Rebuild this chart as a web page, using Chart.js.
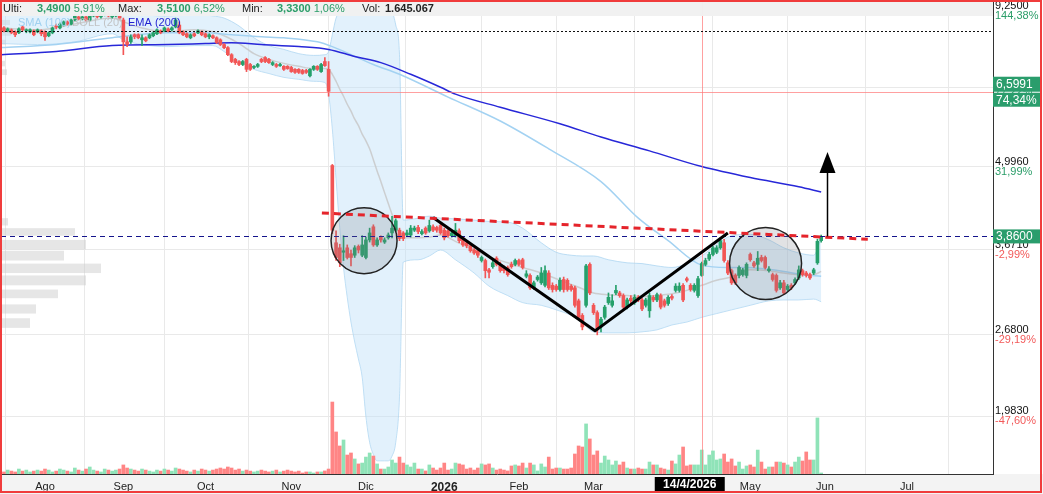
<!DOCTYPE html>
<html lang="es">
<head>
<meta charset="UTF-8">
<title>Gráfico</title>
<script src="https://cdn.jsdelivr.net/npm/chart.js"></script>
<style>
    html, body { margin: 0; padding: 0; background: #fff; overflow: hidden; }
    canvas { display: block; }
</style>
</head>
<body>
<canvas id="chart" width="1043" height="494"></canvas>
<script>
// sesiones diarias: el índice de cada array es la sesión (0 = finales de julio)
const opens = [
 8.30,8.36,8.27,8.30,8.24,8.21,8.39,8.27,8.24,8.27, 8.24,8.27,8.24,8.12,8.21,8.42,8.36,8.45,8.55,8.48,
 8.61,8.71,8.64,8.71,8.61,8.74,8.80,8.71,8.77,8.80, 8.71,8.74,8.77,8.61,7.94,7.94,8.15,8.15,8.00,8.06,
 8.06,8.12,8.18,8.27,8.27,8.33,8.30,8.39,8.45,8.24, 8.18,8.06,8.18,8.21,8.24,8.18,8.09,8.12,8.06,8.00,
 7.86,7.77,7.57,7.44,7.38,7.30,7.44,7.30,7.22,7.25, 7.44,7.49,7.44,7.30,7.30,7.27,7.25,7.25,7.22,7.17,
 7.17,7.14,7.14,7.00,7.17,7.25,7.11,7.38,7.17,5.02, 3.77,3.70,3.64,3.70,3.62,3.60,3.72,3.60,3.57,3.81,
 4.00,3.74,3.85,3.78,3.84,3.91,3.95,3.95,3.91,3.88, 3.88,3.95,3.99,3.90,3.98,3.94,4.00,3.99,4.02,3.95,
 3.94,3.87,3.87,3.94,3.84,3.77,3.73,3.67,3.66,3.53, 3.53,3.41,3.45,3.56,3.48,3.44,3.44,3.48,3.48,3.53,
 3.54,3.33,3.34,3.19,3.29,3.25,3.22,3.37,3.22,3.21, 3.17,3.29,3.28,3.21,3.19,3.04,2.88,2.99,3.48,2.99,
 2.91,2.76,2.86,3.02,2.99,3.13,3.13,3.10,2.97,3.07, 3.02,3.08,3.05,2.99,2.93,3.08,3.05,3.10,3.04,3.01,
 3.09,3.16,3.16,3.22,3.30,3.22,3.16,3.10,3.34,3.48, 3.55,3.61,3.64,3.70,3.77,3.50,3.40,3.34,3.34,3.35,
 3.34,3.61,3.50,3.48,3.57,3.57,3.40,3.35,3.34,3.19, 3.25,3.17,3.22,3.25,3.31,3.40,3.37,3.35,3.37,3.50,
 3.80
];
const highs = [
 8.39,8.40,8.36,8.33,8.27,8.36,8.42,8.33,8.33,8.30, 8.33,8.30,8.27,8.24,8.39,8.48,8.52,8.58,8.58,8.64,
 8.80,8.77,8.74,8.74,8.80,8.84,8.84,8.87,8.90,8.84, 8.80,8.84,8.80,8.67,8.09,8.15,8.18,8.18,8.15,8.09,
 8.18,8.24,8.33,8.30,8.39,8.36,8.39,8.67,8.55,8.27, 8.21,8.18,8.21,8.30,8.27,8.21,8.18,8.15,8.09,8.03,
 7.89,7.80,7.60,7.47,7.41,7.41,7.47,7.33,7.27,7.33, 7.47,7.52,7.47,7.38,7.33,7.33,7.27,7.27,7.25,7.19,
 7.19,7.17,7.17,7.19,7.27,7.27,7.33,7.49,7.38,5.04, 3.94,3.75,3.87,3.74,3.67,3.73,3.74,3.87,3.85,3.98,
 4.03,3.84,3.87,3.84,3.91,4.16,4.12,3.98,3.93,3.95, 4.02,4.01,4.02,3.96,4.00,4.10,4.03,4.01,4.05,3.98,
 3.96,3.93,4.05,3.97,3.86,3.79,3.75,3.69,3.68,3.59, 3.55,3.43,3.53,3.58,3.51,3.46,3.46,3.51,3.55,3.55,
 3.56,3.40,3.36,3.27,3.34,3.44,3.46,3.40,3.25,3.23, 3.31,3.32,3.30,3.23,3.21,3.06,2.90,3.48,3.50,3.01,
 2.93,2.86,2.99,3.13,3.11,3.22,3.15,3.12,3.07,3.10, 3.11,3.10,3.07,3.07,3.13,3.10,3.13,3.12,3.06,3.10,
 3.11,3.24,3.25,3.24,3.32,3.24,3.24,3.33,3.51,3.56, 3.64,3.72,3.73,3.84,3.82,3.53,3.42,3.36,3.46,3.43,
 3.50,3.63,3.52,3.65,3.60,3.59,3.45,3.37,3.36,3.28, 3.28,3.23,3.24,3.31,3.46,3.42,3.39,3.37,3.43,3.82,
 3.88
];
const lows = [
 8.27,8.24,8.24,8.18,8.09,8.18,8.27,8.21,8.21,8.12, 8.21,8.12,7.98,8.09,8.18,8.33,8.33,8.42,8.45,8.45,
 8.58,8.61,8.61,8.58,8.58,8.71,8.67,8.67,8.74,8.71, 8.67,8.71,8.64,7.57,7.80,7.89,8.03,8.03,7.83,7.94,
 8.03,8.09,8.15,8.18,8.24,8.24,8.27,8.36,8.18,8.12, 8.06,8.03,8.09,8.18,8.12,8.06,8.03,8.03,7.89,7.83,
 7.74,7.54,7.35,7.30,7.27,7.27,7.11,7.14,7.19,7.22, 7.35,7.35,7.33,7.27,7.22,7.25,7.14,7.17,7.09,7.06,
 7.06,7.04,7.06,6.97,7.14,7.14,7.09,7.25,6.49,3.90, 3.53,3.45,3.53,3.55,3.46,3.57,3.63,3.58,3.55,3.78,
 3.72,3.72,3.78,3.76,3.82,3.84,3.93,3.80,3.80,3.86, 3.85,3.93,3.90,3.88,3.89,3.92,3.93,3.92,3.89,3.81,
 3.85,3.85,3.85,3.77,3.72,3.70,3.64,3.61,3.57,3.51, 3.31,3.31,3.43,3.46,3.38,3.37,3.33,3.43,3.46,3.46,
 3.42,3.31,3.17,3.17,3.27,3.23,3.20,3.17,3.14,3.15, 3.15,3.14,3.15,3.15,2.97,2.84,2.73,2.97,3.11,2.89,
 2.68,2.71,2.84,3.00,2.97,3.11,3.08,2.95,2.95,3.01, 3.00,3.03,2.93,2.97,2.86,3.03,3.03,2.95,2.97,2.99,
 3.05,3.14,3.14,3.03,3.26,3.15,3.14,3.08,3.33,3.46, 3.53,3.59,3.62,3.68,3.51,3.35,3.23,3.23,3.31,3.33,
 3.31,3.52,3.44,3.40,3.51,3.42,3.38,3.27,3.14,3.17, 3.11,3.15,3.17,3.23,3.29,3.33,3.32,3.29,3.35,3.48,
 3.78
];
const closes = [
 8.36,8.27,8.33,8.21,8.15,8.33,8.30,8.30,8.30,8.15, 8.30,8.18,8.09,8.21,8.36,8.39,8.48,8.55,8.48,8.61,
 8.74,8.64,8.71,8.61,8.77,8.80,8.71,8.80,8.84,8.74, 8.77,8.80,8.67,7.94,7.86,8.09,8.09,8.06,8.06,7.97,
 8.15,8.21,8.30,8.21,8.36,8.27,8.36,8.61,8.21,8.15, 8.09,8.15,8.12,8.27,8.15,8.09,8.15,8.06,7.92,7.86,
 7.77,7.57,7.38,7.35,7.30,7.38,7.17,7.17,7.25,7.30, 7.38,7.38,7.35,7.35,7.25,7.30,7.17,7.19,7.11,7.09,
 7.09,7.06,7.09,7.17,7.25,7.17,7.30,7.27,6.61,3.95, 3.57,3.50,3.66,3.57,3.57,3.70,3.67,3.74,3.81,3.91,
 3.74,3.81,3.81,3.81,3.88,3.98,4.09,3.83,3.83,3.91, 3.98,3.98,3.93,3.93,3.91,4.02,3.95,3.95,3.91,3.84,
 3.87,3.91,3.95,3.80,3.74,3.73,3.66,3.63,3.60,3.57, 3.40,3.38,3.50,3.48,3.40,3.40,3.35,3.45,3.53,3.48,
 3.44,3.36,3.19,3.25,3.32,3.37,3.40,3.19,3.17,3.17, 3.28,3.17,3.17,3.17,2.99,2.86,2.76,3.46,3.13,2.91,
 2.73,2.84,2.97,3.08,3.04,3.16,3.10,2.97,3.05,3.04, 3.08,3.05,2.95,3.05,3.10,3.05,3.11,2.97,2.99,3.08,
 3.07,3.21,3.21,3.05,3.28,3.17,3.22,3.30,3.49,3.53, 3.61,3.70,3.70,3.80,3.53,3.37,3.25,3.25,3.44,3.41,
 3.48,3.54,3.46,3.56,3.53,3.44,3.42,3.29,3.16,3.25, 3.13,3.21,3.19,3.29,3.41,3.35,3.34,3.31,3.41,3.79,
 3.86
];
// volumen en millones de títulos
const volumes = [
 0.20,0.14,0.27,0.20,0.14,0.34,0.20,0.27,0.14,0.20,0.27,
 0.20,0.34,0.27,0.14,0.20,0.34,0.27,0.20,0.14,0.41,
 0.27,0.20,0.34,0.48,0.27,0.20,0.14,0.34,0.27,0.20,0.27,0.34,
 0.62,0.41,0.34,0.27,0.20,0.34,0.27,0.20,0.14,0.27,0.20,0.34,
 0.27,0.20,0.41,0.34,0.27,0.20,0.14,0.27,0.20,0.34,0.27,0.20,
 0.27,0.34,0.41,0.34,0.48,0.41,0.27,0.34,0.20,0.27,0.20,0.14,
 0.20,0.27,0.20,0.14,0.20,0.27,0.14,0.20,0.27,0.20,0.14,0.20,
 0.07,0.14,0.14,0.07,0.14,0.14,0.21,0.34,
 4.93,2.88,1.92,2.33,1.30,1.44,1.03,0.69,0.75,1.16,1.44,
 1.23,0.69,0.34,0.34,0.48,0.96,0.75,1.16,0.75,0.62,
 0.48,0.75,0.34,0.34,0.21,0.62,0.41,0.27,0.41,0.75,
 0.27,0.34,0.75,0.69,0.62,0.34,0.41,0.27,0.41,0.69,
 0.62,0.69,0.41,0.27,0.34,0.27,0.21,0.55,0.62,0.55,
 0.75,0.41,0.75,0.62,0.21,0.69,0.48,1.16,0.34,0.41,
 0.41,0.34,0.34,0.41,1.37,1.92,1.85,3.43,2.40,1.30,
 1.58,0.75,1.23,0.96,0.62,0.89,0.62,0.82,0.41,0.34,
 0.34,0.41,0.34,0.34,0.82,0.62,0.62,0.41,0.34,0.27,
 0.89,0.69,1.30,1.85,0.55,0.62,0.62,0.62,1.645,0.62,
 1.30,1.58,0.96,1.03,1.37,0.82,1.03,0.55,0.82,0.34,
 0.55,0.62,0.48,1.64,0.82,0.34,0.48,0.48,0.82,0.82,
 0.75,0.62,0.48,0.82,1.16,0.89,1.51,0.96,0.96,3.84,
 0.07
];

// meses del eje x (sesión donde empieza cada mes)
const monthTicks = [12, 33, 55, 78, 98, 119, 139, 159, 181, 201, 221, 243];
const monthNames = ['Ago', 'Sep', 'Oct', 'Nov', 'Dic', '2026', 'Feb', 'Mar', 'Abr', 'May', 'Jun', 'Jul'];

// Bollinger (20)
const bollK = [0,10,20,30,33,38,45,52,57,60,64,68,72,76,80,84,87,88,
  89,90,91,92,93,94,95,96,97,98,99,100,101,102,103,104,105,106,107,108,
  112,115,118,122,127,131,136,140,145,149,153,156,159,163,168,172,176,180,184,188,192,196,201,206,210,214,218,220];
const bollUp = [8.87,8.80,9.00,9.13,9.07,8.80,8.74,8.80,8.74,8.67,8.42,8.06,7.83,7.72,7.60,7.55,7.57,7.66,
  8.15,8.67,8.87,8.94,8.94,8.94,8.94,8.94,8.94,8.94,8.94,8.94,8.94,8.94,8.94,8.94,8.87,8.45,7.57,4.10,
  4.13,4.16,4.13,4.12,4.10,4.08,4.07,3.98,3.77,3.64,3.60,3.59,3.59,3.54,3.50,3.49,3.46,3.44,3.49,3.59,3.75,3.87,3.89,3.81,3.70,3.63,3.60,3.84];
const bollMid = [8.36,8.30,8.48,8.67,8.55,8.36,8.24,8.30,8.24,8.12,7.89,7.60,7.44,7.33,7.25,7.19,7.19,7.17,
  7.04,6.86,6.66,6.49,6.30,6.14,5.96,5.82,5.64,5.50,5.34,5.13,4.92,4.73,4.54,4.36,4.19,4.02,3.91,3.84,
  3.84,3.85,3.88,3.79,3.67,3.58,3.50,3.44,3.37,3.30,3.23,3.18,3.13,3.11,3.10,3.09,3.10,3.12,3.16,3.22,3.28,3.32,3.41,3.40,3.37,3.35,3.35,3.39];
const bollLow = [7.89,7.86,7.94,8.18,8.00,7.86,7.80,7.83,7.83,7.66,7.38,7.17,7.06,6.96,6.91,6.86,6.83,6.54,
  5.75,4.78,3.98,3.44,3.08,2.81,2.61,2.45,2.29,1.98,1.80,1.72,1.68,1.68,1.68,1.68,1.71,1.80,2.13,3.51,
  3.54,3.59,3.67,3.54,3.37,3.21,3.10,3.02,2.99,2.94,2.88,2.80,2.71,2.70,2.70,2.71,2.73,2.78,2.81,2.86,2.90,2.94,2.99,3.04,3.05,3.05,3.06,3.03];

// SMA (100) y EMA (200)
const smaK = [0,15,30,45,55,62,70,76,85,89,100,107,120,134,147,161,171,179,188,195,200,205,210,215,220];
const smaVals = [7.77,7.86,8.06,8.21,8.21,8.15,8.09,8.06,7.94,7.80,7.30,7.04,6.47,5.92,5.34,4.73,4.13,3.80,3.47,3.44,3.44,3.42,3.39,3.35,3.33];
const emaK = [0,15,30,45,55,62,70,80,88,95,102,110,118,122,134,150,161,174,188,201,214,220];
const emaVals = [7.57,7.66,7.83,7.86,7.89,7.91,7.86,7.80,7.72,7.52,7.35,7.04,6.71,6.54,6.23,5.86,5.58,5.30,5.00,4.80,4.64,4.55];

// perfil de volumen por precio (millones)
const profLo = [2.75, 2.90, 3.07, 3.22, 3.37, 3.53, 3.68, 3.87, 4.02, 7.02, 7.25, 7.86, 8.12, 8.45];
const profHi = [2.85, 3.00, 3.17, 3.34, 3.49, 3.66, 3.81, 3.98, 4.13, 7.17, 7.40, 8.00, 8.30, 8.61];
const profVol = [11.6, 14, 22.8, 34, 40, 25.2, 34, 29.6, 2.8, 2.4, 1.6, 2, 4, 3.6];
const profMax = 396.8; // volumen que ocuparía todo el ancho del gráfico

// eje de precios
const yTicks = [1.983, 2.68, 3.671, 4.996, 6.708, 9.25];
const yTickLabels = ['1,9830', '2,6800', '3,6710', '4,9960', '6,7080', '9,2500'];
const yTickPct = ['-47,60%', '-29,19%', '-2,99%', '31,99%', '77,22%', '144,38%'];

// dibujos del usuario
const trendK = [86.2, 232.5], trendP = [4.21, 3.82];
const patternK = [116, 159.4, 195], patternP = [4.14, 2.72, 3.91];
const circleK = [97.5, 205.1], circleP = [3.80, 3.49];
const arrowK = 221.6, arrowP = [3.86, 5.28];
const dottedLevel = 8.27;

// cursor
const crossK = 188, crossP = 6.5991, crossPct = '74,34%', crossDate = '14/4/2026';
const headerVals = [['Ulti:', '3,4900', '5,91%'], ['Max:', '3,5100', '6,52%'], ['Min:', '3,3300', '1,06%']];
const headerVol = '1.645.067';

const GREEN = '#26a06b', RED = '#f25656';
const FONT = 'Arial, "Liberation Sans", sans-serif';
Chart.defaults.font.family = FONT;

const up = closes.map((c, i) => c >= opens[i]);
const pts = (ks, vs) => ks.map((k, i) => ({x: k, y: vs[i]}));

const deco = {
    id: 'deco',
    beforeDraw(chart) {
        const c = chart.ctx, a = chart.chartArea;
        c.save();
        c.fillStyle = '#fff';
        c.fillRect(0, 0, chart.width, chart.height);
        c.fillStyle = '#f3f3f3';
        c.fillRect(0, a.bottom, chart.width, chart.height - a.bottom);
        c.restore();
    },
    beforeDatasetsDraw(chart) {
        const {ctx: c, scales: {y}, chartArea: a} = chart;
        const w = a.right - a.left;
        c.save();
        c.fillStyle = 'rgba(200,200,200,0.45)';
        profLo.forEach((lo, i) => {
            const t = y.getPixelForValue(profHi[i]), b = y.getPixelForValue(lo);
            c.fillRect(a.left, t, w * profVol[i] / profMax, b - t);
        });
        c.restore();
    },
    afterDatasetsDraw(chart) {
        const {ctx: c, scales: {x, y}, chartArea: a} = chart;
        c.save();
        c.beginPath();
        c.rect(a.left, a.top, a.right - a.left, a.bottom - a.top);
        c.clip();

        // cursor
        c.strokeStyle = 'rgba(255,120,120,0.7)';
        c.lineWidth = 1;
        const cx = Math.round(x.getPixelForValue(crossK)) + 0.5;
        const cy = Math.round(y.getPixelForValue(crossP)) + 0.5;
        c.beginPath();
        c.moveTo(cx, a.top); c.lineTo(cx, a.bottom);
        c.moveTo(a.left, cy); c.lineTo(a.right, cy);
        c.stroke();

        // nivel punteado
        const dy = Math.round(y.getPixelForValue(dottedLevel)) + 0.5;
        c.strokeStyle = '#111';
        c.setLineDash([2, 2]);
        c.beginPath(); c.moveTo(a.left, dy); c.lineTo(a.right, dy); c.stroke();

        // último precio
        const py = Math.round(y.getPixelForValue(closes[closes.length - 1])) + 0.5;
        c.strokeStyle = '#14148c';
        c.setLineDash([5, 4]);
        c.beginPath(); c.moveTo(a.left, py); c.lineTo(a.right, py); c.stroke();
        c.setLineDash([]);

        // círculos
        const radii = [33, 36];
        circleK.forEach((k, i) => {
            c.beginPath();
            c.arc(x.getPixelForValue(k), y.getPixelForValue(circleP[i]), radii[i], 0, Math.PI * 2);
            c.fillStyle = 'rgba(120,125,130,0.22)';
            c.fill();
            c.strokeStyle = '#222';
            c.lineWidth = 1.5;
            c.stroke();
        });

        // figura en V
        c.strokeStyle = '#000';
        c.lineWidth = 3;
        c.lineJoin = 'round';
        c.beginPath();
        patternK.forEach((k, i) => {
            const px = x.getPixelForValue(k), yy = y.getPixelForValue(patternP[i]);
            i ? c.lineTo(px, yy) : c.moveTo(px, yy);
        });
        c.stroke();

        // directriz roja
        c.strokeStyle = '#e5242b';
        c.lineWidth = 3;
        c.setLineDash([7, 5]);
        c.beginPath();
        c.moveTo(x.getPixelForValue(trendK[0]), y.getPixelForValue(trendP[0]));
        c.lineTo(x.getPixelForValue(trendK[1]), y.getPixelForValue(trendP[1]));
        c.stroke();
        c.setLineDash([]);

        // flecha objetivo
        const ax = Math.round(x.getPixelForValue(arrowK)) + 0.5;
        const ay0 = y.getPixelForValue(arrowP[0]), ay1 = y.getPixelForValue(arrowP[1]);
        c.strokeStyle = '#000';
        c.lineWidth = 1.5;
        c.beginPath(); c.moveTo(ax, ay0); c.lineTo(ax, ay1 + 20); c.stroke();
        c.fillStyle = '#000';
        c.beginPath();
        c.moveTo(ax, ay1); c.lineTo(ax - 8, ay1 + 21); c.lineTo(ax + 8, ay1 + 21); c.closePath();
        c.fill();
        c.restore();

        // cabecera
        c.save();
        c.fillStyle = 'rgba(241,241,241,0.97)';
        c.fillRect(a.left, a.top, a.right - a.left, 15);
        c.textBaseline = 'middle';
        const gx = [3, 118, 242], vx = [37, 157, 277];
        headerVals.forEach((h, i) => {
            c.font = '11px ' + FONT;
            c.fillStyle = '#222';
            c.fillText(h[0], gx[i], 9);
            c.font = 'bold 11px ' + FONT;
            c.fillStyle = '#2a9d68';
            c.fillText(h[1], vx[i], 9);
            const w = c.measureText(h[1]).width;
            c.font = '11px ' + FONT;
            c.fillText(h[2], vx[i] + w + 3, 9);
        });
        c.fillStyle = '#222';
        c.fillText('Vol:', 362, 9);
        c.font = 'bold 11px ' + FONT;
        c.fillText(headerVol, 385, 9);

        // leyenda de indicadores
        c.font = '11px ' + FONT;
        c.fillStyle = '#9fd0f0';
        c.fillText('SMA (100)', 18, 23);
        c.fillStyle = 'rgba(190,190,190,0.9)';
        c.fillText('BOLL (20)', 72, 23);
        c.fillStyle = '#1f1fd0';
        c.fillText('EMA (200)', 128, 23);
        c.restore();
    },
    afterDraw(chart) {
        const {ctx: c, scales: {x, y}, chartArea: a} = chart;
        c.save();
        c.textBaseline = 'middle';
        c.textAlign = 'left';
        c.font = '11px ' + FONT;
        yTicks.forEach((v, i) => {
            const ty = Math.max(y.getPixelForValue(v) - 5, 6);
            c.fillStyle = '#111';
            c.fillText(yTickLabels[i], a.right + 2, ty);
            c.fillStyle = yTickPct[i].startsWith('-') ? '#f25a5a' : '#2a9d68';
            c.fillText(yTickPct[i], a.right + 2, ty + 10);
        });

        const box = (top, h, txt) => {
            c.fillStyle = '#2a9d6c';
            c.fillRect(a.right, top, 47, h);
            c.fillStyle = '#fff';
            c.font = '12px ' + FONT;
            c.fillText(txt, a.right + 3, top + h / 2 + 0.5);
        };
        const last = closes[closes.length - 1];
        const py = y.getPixelForValue(last);
        box(py - 7, 14, last.toFixed(4).replace('.', ','));
        const cy = y.getPixelForValue(crossP);
        box(cy - 15, 15, crossP.toFixed(4).replace('.', ','));
        box(cy + 1, 14, crossPct);

        // fecha del cursor
        const cx = x.getPixelForValue(crossK);
        c.fillStyle = '#000';
        c.fillRect(cx - 47, a.bottom + 3, 70, 15);
        c.fillStyle = '#fff';
        c.font = 'bold 12px ' + FONT;
        c.textAlign = 'center';
        c.fillText(crossDate, cx - 12, a.bottom + 11);

        // marco
        c.strokeStyle = '#f03c3c';
        c.lineWidth = 2;
        c.strokeRect(1, 1, chart.width - 3, chart.height - 3);
        c.restore();
    }
};

new Chart(document.getElementById('chart'), {
    type: 'bar',
    data: {
        datasets: [
            {
                type: 'line', label: 'BOLL sup', data: pts(bollK, bollUp),
                borderColor: 'rgba(165,210,240,0.7)', borderWidth: 1,
                backgroundColor: 'rgba(190,224,248,0.45)', fill: '+1',
                pointRadius: 0, cubicInterpolationMode: 'monotone', order: 10
            },
            {
                type: 'line', label: 'BOLL inf', data: pts(bollK, bollLow),
                borderColor: 'rgba(165,210,240,0.7)', borderWidth: 1, fill: false,
                pointRadius: 0, cubicInterpolationMode: 'monotone', order: 10
            },
            {
                type: 'line', label: 'BOLL (20)', data: pts(bollK, bollMid),
                borderColor: 'rgba(200,200,200,0.85)', borderWidth: 1.5, fill: false,
                pointRadius: 0, cubicInterpolationMode: 'monotone', order: 9
            },
            {
                type: 'bar', label: 'Vol', yAxisID: 'yv',
                data: volumes.map((v, i) => ({x: i, y: v})),
                backgroundColor: up.map(u => u ? '#8fe3b8' : '#ff8585'),
                barThickness: 3, grouped: false, order: 8
            },
            {
                type: 'line', label: 'SMA (100)', data: pts(smaK, smaVals),
                borderColor: '#a3d2f2', borderWidth: 1.5, fill: false,
                pointRadius: 0, cubicInterpolationMode: 'monotone', order: 7
            },
            {
                type: 'line', label: 'EMA (200)', data: pts(emaK, emaVals),
                borderColor: '#2727d8', borderWidth: 1.5, fill: false,
                pointRadius: 0, cubicInterpolationMode: 'monotone', order: 6
            },
            {
                type: 'bar', label: 'mechas',
                data: closes.map((c, i) => ({x: i, y: [lows[i], highs[i]]})),
                backgroundColor: up.map(u => u ? GREEN : RED),
                barThickness: 1, grouped: false, order: 2
            },
            {
                type: 'bar', label: 'cuerpos',
                data: closes.map((c, i) => ({x: i, y: [opens[i], c]})),
                backgroundColor: up.map(u => u ? GREEN : RED),
                barThickness: 3, minBarLength: 1, grouped: false, order: 1
            }
        ]
    },
    options: {
        responsive: false,
        animation: false,
        events: [],
        layout: {padding: {left: 1, top: 1, right: 0, bottom: 0}, autoPadding: false},
        plugins: {legend: {display: false}, tooltip: {enabled: false}},
        scales: {
            x: {
                type: 'linear', min: 0.21, max: 266.05, offset: false,
                afterBuildTicks: s => { s.ticks = monthTicks.map(v => ({value: v})); },
                afterFit: s => { s.height = 20; },
                grid: {color: '#e9e9e9', drawTicks: false},
                border: {color: '#333'},
                ticks: {
                    autoSkip: false, maxRotation: 0, padding: 6, color: '#222',
                    callback: (v, i) => monthNames[i],
                    font: ctx => ctx.index === 5 ? {size: 12, weight: 'bold'} : {size: 11}
                }
            },
            y: {
                type: 'logarithmic', position: 'right', min: 1.623, max: 9.237,
                afterBuildTicks: s => { s.ticks = yTicks.map(v => ({value: v})); },
                afterFit: s => { s.width = 50; },
                grid: {color: '#e9e9e9', drawTicks: false},
                border: {color: '#333'},
                ticks: {display: false}
            },
            yv: {type: 'linear', display: false, min: 0, max: 32.4}
        }
    },
    plugins: [deco]
});
</script>
</body>
</html>
